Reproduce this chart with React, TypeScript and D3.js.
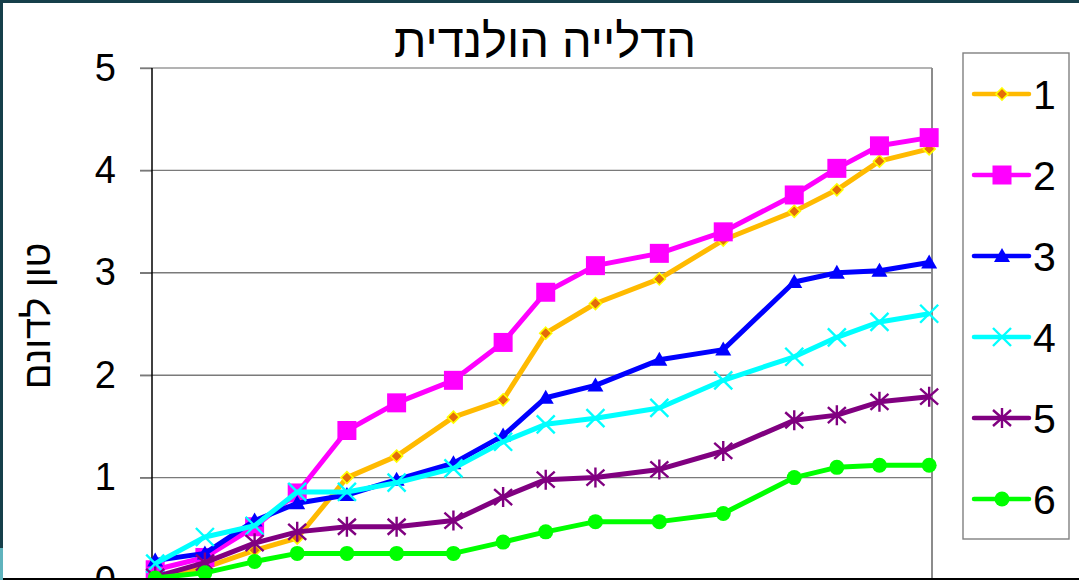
import React, { useEffect, useRef } from "react";
import * as d3 from "d3";

// days since start of measurements
const days = [0, 7, 14, 20, 27, 34, 42, 49, 55, 62, 71, 80, 90, 96, 102, 109];

const series1 = [0.03, 0.12, 0.29, 0.41, 1.0, 1.21, 1.59, 1.76, 2.41, 2.7, 2.94, 3.32, 3.6, 3.81, 4.09, 4.21];
const series2 = [0.1, 0.22, 0.52, 0.85, 1.46, 1.73, 1.95, 2.32, 2.81, 3.07, 3.19, 3.4, 3.76, 4.02, 4.24, 4.32];
const series3 = [0.19, 0.26, 0.58, 0.75, 0.83, 0.98, 1.14, 1.41, 1.78, 1.9, 2.15, 2.25, 2.91, 3.0, 3.02, 3.1];
const series4 = [0.16, 0.42, 0.53, 0.86, 0.86, 0.95, 1.09, 1.35, 1.52, 1.58, 1.68, 1.95, 2.18, 2.37, 2.52, 2.6];
const series5 = [0.03, 0.17, 0.36, 0.47, 0.52, 0.52, 0.58, 0.81, 0.98, 1.0, 1.08, 1.26, 1.56, 1.61, 1.74, 1.79];
const series6 = [0.02, 0.07, 0.18, 0.26, 0.26, 0.26, 0.26, 0.37, 0.47, 0.57, 0.57, 0.65, 1.0, 1.1, 1.12, 1.12];

const seriesNames = ["1", "2", "3", "4", "5", "6"];
const yTicks = [0, 1, 2, 3, 4, 5];

const title = "הדלייה הולנדית";
const yTitle = "טון לדונם";

const FONT = "'Liberation Sans', Arial, 'DejaVu Sans', sans-serif";

const styles = [
  { color: "#FFBA00", marker: "diamond" },
  { color: "#FF00FF", marker: "square" },
  { color: "#0000FF", marker: "triangle" },
  { color: "#00FFFF", marker: "x" },
  { color: "#800080", marker: "star" },
  { color: "#00FF00", marker: "circle" },
];

function drawMarker(g: any, kind: string, color: string) {
  if (kind === "diamond") {
    g.append("path").attr("d", "M0,-6L6,0L0,6L-6,0Z")
      .attr("fill", "#E46C0A").attr("stroke", "#FFFF00").attr("stroke-width", 1.6);
  } else if (kind === "square") {
    g.append("rect").attr("x", -9.5).attr("y", -9.5).attr("width", 19).attr("height", 19).attr("fill", color);
  } else if (kind === "triangle") {
    g.append("path").attr("d", "M0,-8L8,6L-8,6Z").attr("fill", color);
  } else if (kind === "x") {
    g.append("path").attr("d", "M-9,-9L9,9M-9,9L9,-9")
      .attr("stroke", color).attr("stroke-width", 2.4).attr("fill", "none");
  } else if (kind === "star") {
    g.append("path").attr("d", "M-9,-8L9,8M-9,8L9,-8M0,-10L0,10")
      .attr("stroke", color).attr("stroke-width", 2.4).attr("fill", "none");
  } else {
    g.append("circle").attr("r", 7.5).attr("fill", color);
  }
}

export default function App() {
  const ref = useRef<SVGSVGElement>(null);

  useEffect(() => {
    const svg = d3.select(ref.current);
    svg.selectAll("*").remove();

    const width = 1079, height = 580;
    const plot = { left: 152, right: 932, top: 68, bottom: 580 };

    const x = d3.scaleLinear().domain([-0.45, 109.4]).range([plot.left, plot.right]);
    const y = d3.scaleLinear().domain([0, 5]).range([plot.bottom, plot.top]);

    svg.append("rect").attr("width", width).attr("height", height).attr("fill", "#fff");

    // gridlines
    svg.append("g").selectAll("line")
      .data(yTicks.filter(d => d > 0))
      .enter().append("line")
      .attr("x1", plot.left - 12).attr("x2", plot.right)
      .attr("y1", d => y(d)).attr("y2", d => y(d))
      .attr("stroke", d => d === 5 ? "#9a9a9a" : "#7a7a7a")
      .attr("stroke-width", 1.4);

    // right border of plot area
    svg.append("line")
      .attr("x1", plot.right).attr("x2", plot.right)
      .attr("y1", plot.top).attr("y2", plot.bottom)
      .attr("stroke", "#8c8c8c").attr("stroke-width", 2);

    // y axis
    const yAxis = svg.append("g")
      .attr("transform", `translate(${plot.left},0)`)
      .call(d3.axisLeft(y).tickValues(yTicks).tickSize(12).tickPadding(24).tickFormat(d3.format("d")));
    yAxis.select(".domain").remove();
    yAxis.selectAll(".tick line").attr("stroke", "#7a7a7a").attr("stroke-width", 1.4);
    yAxis.selectAll(".tick text")
      .attr("font-family", FONT).attr("font-size", 38).attr("fill", "#000");
    svg.append("line")
      .attr("x1", plot.left).attr("x2", plot.left)
      .attr("y1", plot.top).attr("y2", plot.bottom)
      .attr("stroke", "#000").attr("stroke-width", 1.5);

    const allSeries = [series1, series2, series3, series4, series5, series6];
    const line = d3.line<number>().x((d, i) => x(days[i])).y(d => y(d));

    allSeries.forEach((values, si) => {
      const st = styles[si];
      svg.append("path")
        .datum(values)
        .attr("d", line)
        .attr("fill", "none")
        .attr("stroke", st.color)
        .attr("stroke-width", 5)
        .attr("stroke-linejoin", "round");
      svg.append("g").selectAll("g")
        .data(values)
        .enter().append("g")
        .attr("transform", (d, i) => `translate(${x(days[i])},${y(d)})`)
        .each(function () { drawMarker(d3.select(this), st.marker, st.color); });
    });

    // title
    svg.append("text")
      .attr("x", 545).attr("y", 57)
      .attr("text-anchor", "middle")
      .attr("font-family", FONT).attr("font-size", 47)
      .text(title);

    // y title
    svg.append("text")
      .attr("transform", "translate(37,316) rotate(-90)")
      .attr("text-anchor", "middle")
      .attr("dominant-baseline", "central")
      .attr("font-family", FONT).attr("font-size", 38)
      .text(yTitle);

    // legend
    const legend = svg.append("g");
    legend.append("rect")
      .attr("x", 963).attr("y", 53).attr("width", 106).attr("height", 486)
      .attr("fill", "#fff").attr("stroke", "#808080").attr("stroke-width", 1.4);
    const item = legend.selectAll(".legend")
      .data(seriesNames)
      .enter().append("g")
      .attr("class", "legend")
      .attr("transform", (d, i) => `translate(0,${94 + i * 81})`);
    item.append("line")
      .attr("x1", 974).attr("x2", 1029)
      .attr("stroke", (d, i) => styles[i].color)
      .attr("stroke-width", 4.5).attr("stroke-linecap", "round");
    item.append("g")
      .attr("transform", "translate(1002,0)")
      .each(function (d, i) { drawMarker(d3.select(this), styles[i].marker, styles[i].color); });
    item.append("text")
      .attr("x", 1033).attr("y", 0).attr("dy", "0.36em")
      .attr("font-family", FONT).attr("font-size", 41)
      .text(d => d);

    // slide frame
    svg.append("line").attr("x1", 0).attr("x2", width).attr("y1", 579).attr("y2", 579)
      .attr("stroke", "#000").attr("stroke-width", 2);
    svg.append("rect").attr("x", 0).attr("y", 0).attr("width", width).attr("height", 3).attr("fill", "#163f4a");
    svg.append("rect").attr("x", 0).attr("y", 0).attr("width", 3).attr("height", 548).attr("fill", "#163f4a");
    svg.append("rect").attr("x", 0).attr("y", 548).attr("width", 3).attr("height", 32).attr("fill", "#5fb3bd");
  }, []);

  return (
    <svg ref={ref} width={1079} height={580}
      style={{ position: "absolute", left: 0, top: 0, display: "block" }} />
  );
}
